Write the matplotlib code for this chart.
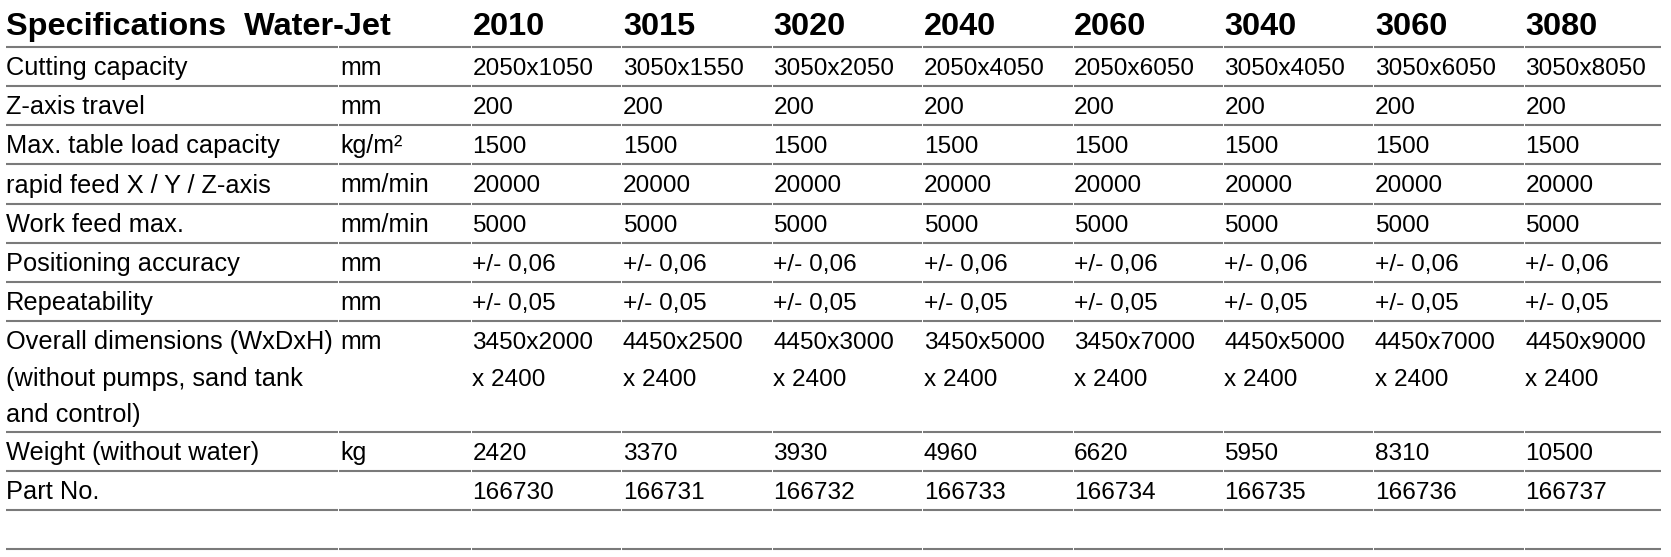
import matplotlib.pyplot as plt

# table content
title = 'Specifications  Water-Jet'
models = ['2010', '3015', '3020', '2040', '2060', '3040', '3060', '3080']
row_labels = ['Cutting capacity', 'Z-axis travel', 'Max. table load capacity',
              'rapid feed X / Y / Z-axis', 'Work feed max.', 'Positioning accuracy',
              'Repeatability',
              'Overall dimensions (WxDxH)\n(without pumps, sand tank\nand control)',
              'Weight (without water)', 'Part No.', '']
units = ['mm', 'mm', 'kg/m²', 'mm/min', 'mm/min', 'mm', 'mm', 'mm', 'kg', '', '']
cutting = ['2050x1050', '3050x1550', '3050x2050', '2050x4050',
           '2050x6050', '3050x4050', '3050x6050', '3050x8050']
z_travel = ['200'] * 8
table_load = ['1500'] * 8
rapid_feed = ['20000'] * 8
work_feed = ['5000'] * 8
pos_acc = ['+/- 0,06'] * 8
repeat = ['+/- 0,05'] * 8
dims = ['3450x2000\nx 2400', '4450x2500\nx 2400', '4450x3000\nx 2400', '3450x5000\nx 2400',
        '3450x7000\nx 2400', '4450x5000\nx 2400', '4450x7000\nx 2400', '4450x9000\nx 2400']
weight = ['2420', '3370', '3930', '4960', '6620', '5950', '8310', '10500']
part_no = ['166730', '166731', '166732', '166733', '166734', '166735', '166736', '166737']
blank = [''] * 8
rows = [cutting, z_travel, table_load, rapid_feed, work_feed, pos_acc, repeat,
        dims, weight, part_no, blank]
n_lines = [lbl.count('\n') + 1 for lbl in row_labels]

W, H = 1671, 557
fig = plt.figure(figsize=(W / 100, H / 100), dpi=100)
ax = fig.add_axes([0, 0, 1, 1])
ax.set_xlim(0, W)
ax.set_ylim(H, 0)
ax.axis('off')

font = 'Liberation Sans'
fs_label, fs_unit, fs_val, fs_head = 18.3, 18.0, 17.6, 23.4
x_label, x_unit, x_first, col_w = 6, 340, 472.5, 150.4
x_end = 1661
row_h, line_h = 39.2, 36.5
header_line = 46.7
line_color = '#7a7a7a'

# column boundaries for the rule segments (small gaps between cells)
bounds = [5, x_unit - 2] + [x_first - 1 + i * col_w for i in range(len(models))] + [x_end]


def hrule(y):
    for a, b in zip(bounds[:-1], bounds[1:]):
        ax.plot([a + 0.5, b - 0.5], [y, y], color=line_color, lw=1.5,
                solid_capstyle='butt')


def cell(x, y, s, fs):
    # one text per line, each on its own baseline
    for k, part in enumerate(s.split('\n')):
        ax.text(x, y + k * line_h, part, fontsize=fs, family=font,
                va='baseline', ha='left')


# header
ax.text(x_label, 35, title, fontsize=fs_head, fontweight='bold', family=font,
        va='baseline', ha='left')
for i, m in enumerate(models):
    ax.text(x_first + i * col_w, 35, m, fontsize=fs_head, fontweight='bold',
            family=font, va='baseline', ha='left')
hrule(header_line)

y_top = header_line
for lbl, unit, vals, nl in zip(row_labels, units, rows, n_lines):
    h = row_h if nl == 1 else 110.7
    base = y_top + 28.2
    cell(x_label, base, lbl, fs_label)
    cell(x_unit, base, unit, fs_unit)
    for i, v in enumerate(vals):
        cell(x_first + i * col_w, base, v, fs_val)
    y_top += h
    hrule(y_top)

fig.savefig('out.png', dpi=100)
